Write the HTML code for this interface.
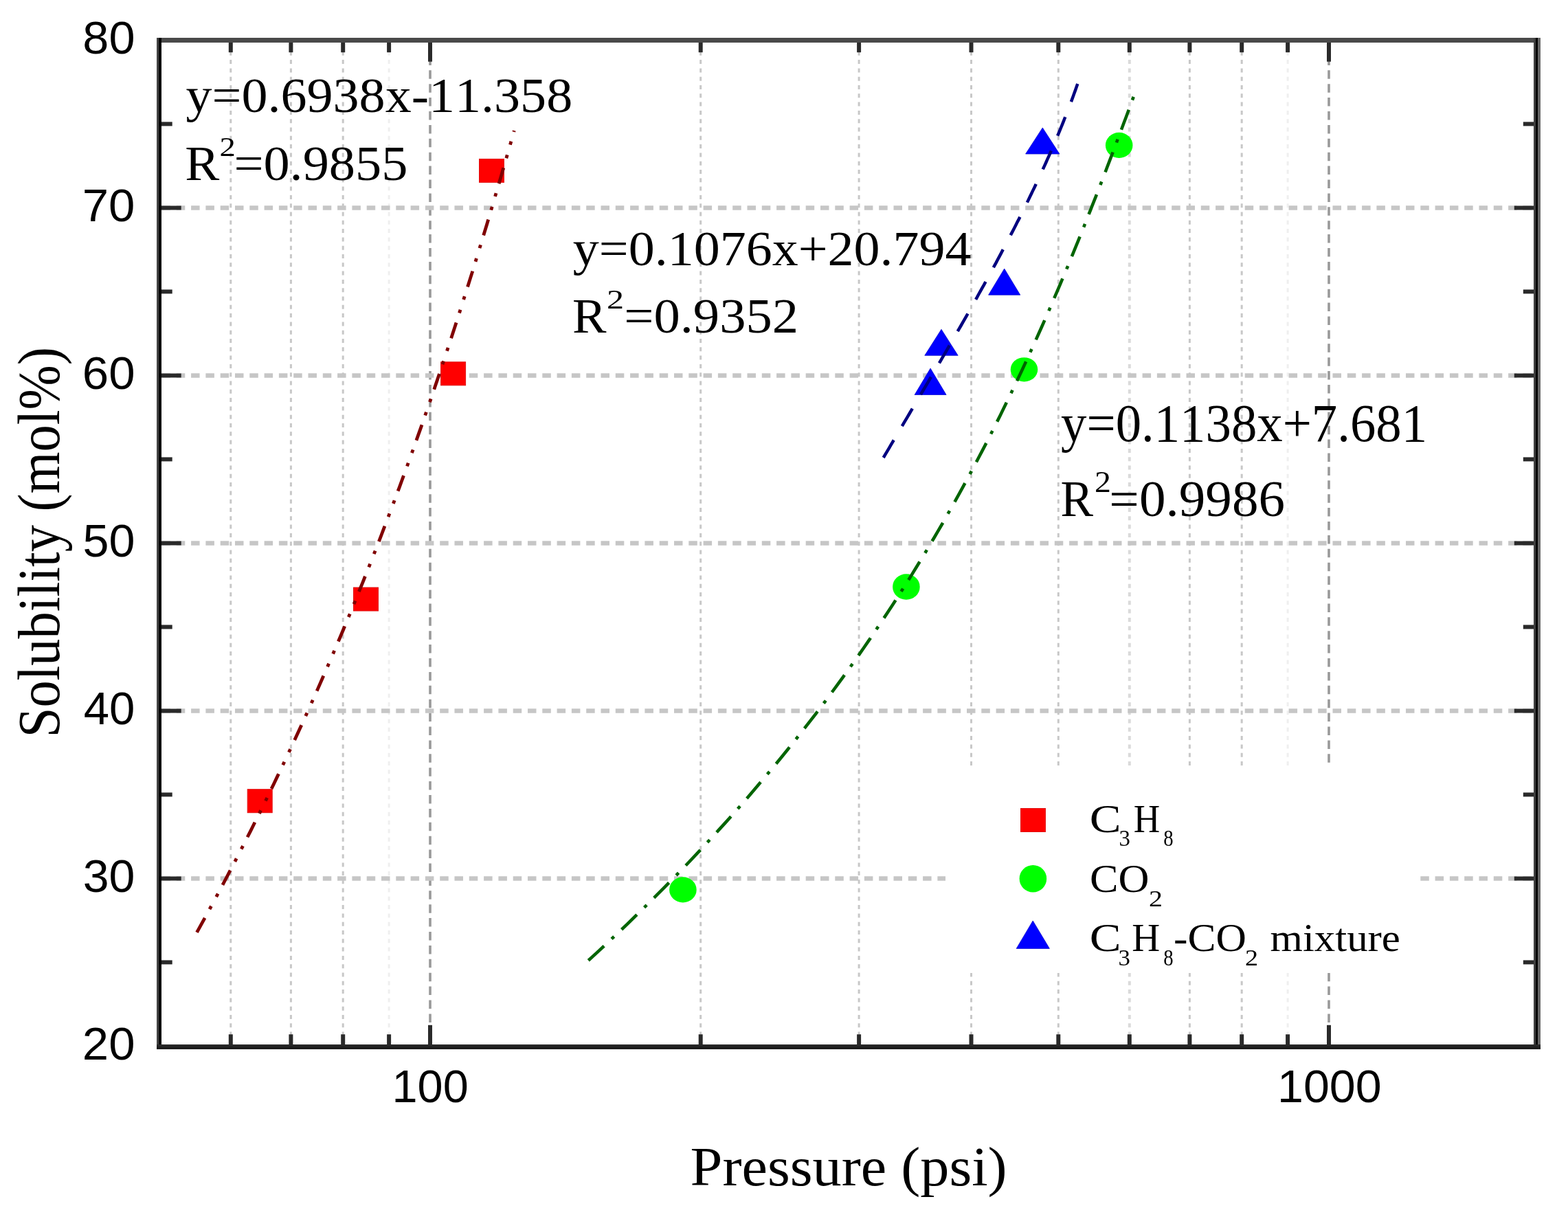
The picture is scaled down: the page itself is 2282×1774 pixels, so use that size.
<!DOCTYPE html><html><head><meta charset="utf-8"><title>Solubility vs Pressure</title><style>html,body{margin:0;padding:0;background:#fff;}svg{display:block;}text{font-kerning:none;}</style></head><body>
<svg width="2282" height="1774" viewBox="0 0 2282 1774">
<rect x="0" y="0" width="2282" height="1774" fill="#fff"/>
<g id="grid"><line x1="335.8" y1="62.5" x2="335.8" y2="1519.0" stroke="#c8c8c8" stroke-width="3" stroke-dasharray="6 6.3"/><line x1="423.4" y1="62.5" x2="423.4" y2="1519.0" stroke="#c8c8c8" stroke-width="3" stroke-dasharray="6 6.3"/><line x1="499.2" y1="62.5" x2="499.2" y2="1519.0" stroke="#c8c8c8" stroke-width="3" stroke-dasharray="6 6.3"/><line x1="566.1" y1="62.5" x2="566.1" y2="1519.0" stroke="#efefef" stroke-width="3" stroke-dasharray="6 6.3"/><line x1="1019.7" y1="62.5" x2="1019.7" y2="1519.0" stroke="#c8c8c8" stroke-width="3" stroke-dasharray="6 6.3"/><line x1="1250.1" y1="62.5" x2="1250.1" y2="1519.0" stroke="#c8c8c8" stroke-width="3" stroke-dasharray="6 6.3"/><line x1="1413.5" y1="62.5" x2="1413.5" y2="1519.0" stroke="#c8c8c8" stroke-width="3" stroke-dasharray="6 6.3"/><line x1="1540.3" y1="62.5" x2="1540.3" y2="1519.0" stroke="#c8c8c8" stroke-width="3" stroke-dasharray="6 6.3"/><line x1="1643.8" y1="62.5" x2="1643.8" y2="1519.0" stroke="#dadada" stroke-width="4" stroke-dasharray="6 6.3"/><line x1="1731.4" y1="62.5" x2="1731.4" y2="1519.0" stroke="#c8c8c8" stroke-width="3" stroke-dasharray="6 6.3"/><line x1="1807.2" y1="62.5" x2="1807.2" y2="1519.0" stroke="#c8c8c8" stroke-width="3" stroke-dasharray="6 6.3"/><line x1="1874.1" y1="62.5" x2="1874.1" y2="1519.0" stroke="#efefef" stroke-width="3" stroke-dasharray="6 6.3"/><line x1="626.0" y1="62.5" x2="626.0" y2="1519.0" stroke="#999" stroke-width="3.6" stroke-dasharray="12.5 7.4"/><line x1="1934.0" y1="62.5" x2="1934.0" y2="1519.0" stroke="#999" stroke-width="3.6" stroke-dasharray="12.5 7.4"/><line x1="235.5" y1="1278.4" x2="2232.0" y2="1278.4" stroke="#c6c6c6" stroke-width="6.5" stroke-dasharray="12.5 8.8"/><line x1="235.5" y1="1034.4" x2="2232.0" y2="1034.4" stroke="#c6c6c6" stroke-width="6.5" stroke-dasharray="12.5 8.8"/><line x1="235.5" y1="790.4" x2="2232.0" y2="790.4" stroke="#c6c6c6" stroke-width="6.5" stroke-dasharray="12.5 8.8"/><line x1="235.5" y1="546.4" x2="2232.0" y2="546.4" stroke="#c6c6c6" stroke-width="6.5" stroke-dasharray="12.5 8.8"/><line x1="235.5" y1="302.4" x2="2232.0" y2="302.4" stroke="#c6c6c6" stroke-width="6.5" stroke-dasharray="12.5 8.8"/></g>
<rect x="1376" y="1115" width="691" height="301" fill="#fff"/>
<rect x="360.2" y="1148.7" width="36" height="34" fill="#ff0000" stroke="#e01010" stroke-width="1"/>
<rect x="514.5" y="855.0" width="36" height="34" fill="#ff0000" stroke="#e01010" stroke-width="1"/>
<rect x="641.6" y="526.8" width="36" height="34" fill="#ff0000" stroke="#e01010" stroke-width="1"/>
<rect x="697.5" y="231.4" width="36" height="34" fill="#ff0000" stroke="#e01010" stroke-width="1"/>
<ellipse cx="993.9" cy="1294.9" rx="19.8" ry="18.6" fill="#00ff00"/>
<ellipse cx="1318.9" cy="854" rx="19.8" ry="18.8" fill="#00ff00"/>
<ellipse cx="1490.5" cy="537.8" rx="19.8" ry="17.6" fill="#00ff00"/>
<ellipse cx="1628.7" cy="211.4" rx="19.8" ry="18.6" fill="#00ff00"/>
<polygon points="1354.1,536.0 1331.1,574.5 1377.1,574.5" fill="#0000ff" stroke="#1010d0" stroke-width="0.8"/>
<polygon points="1370.0,479.3 1345.8,517.3 1394.2,517.3" fill="#0000ff" stroke="#1010d0" stroke-width="0.8"/>
<polygon points="1461.7,391.0 1438.6,429.2 1484.8,429.2" fill="#0000ff" stroke="#1010d0" stroke-width="0.8"/>
<polygon points="1517.3,185.9 1492.6,224.0 1542.0,224.0" fill="#0000ff" stroke="#1010d0" stroke-width="0.8"/>
<path d="M286.5,1356.9 L291.9,1347.1 L297.3,1337.3 L302.7,1327.5 L308.0,1317.7 L313.3,1307.9 L318.5,1298.1 L323.8,1288.3 L328.9,1278.5 L334.1,1268.7 L339.2,1258.9 L344.3,1249.1 L349.4,1239.2 L354.4,1229.4 L359.4,1219.6 L364.4,1209.8 L369.3,1200.0 L374.2,1190.2 L379.1,1180.4 L383.9,1170.6 L388.8,1160.8 L393.5,1151.0 L398.3,1141.2 L403.0,1131.4 L407.7,1121.6 L412.4,1111.8 L417.0,1102.0 L421.6,1092.2 L426.2,1082.4 L430.8,1072.6 L435.3,1062.8 L439.8,1053.0 L444.3,1043.2 L448.7,1033.4 L453.1,1023.6 L457.5,1013.8 L461.9,1003.9 L466.2,994.1 L470.5,984.3 L474.8,974.5 L479.0,964.7 L483.2,954.9 L487.4,945.1 L491.6,935.3 L495.8,925.5 L499.9,915.7 L504.0,905.9 L508.1,896.1 L512.1,886.3 L516.1,876.5 L520.1,866.7 L524.1,856.9 L528.1,847.1 L532.0,837.3 L535.9,827.5 L539.8,817.7 L543.6,807.9 L547.5,798.1 L551.3,788.3 L555.1,778.5 L558.8,768.6 L562.6,758.8 L566.3,749.0 L570.0,739.2 L573.7,729.4 L577.3,719.6 L581.0,709.8 L584.6,700.0 L588.2,690.2 L591.8,680.4 L595.3,670.6 L598.8,660.8 L602.4,651.0 L605.8,641.2 L609.3,631.4 L612.8,621.6 L616.2,611.8 L619.6,602.0 L623.0,592.2 L626.4,582.4 L629.8,572.6 L633.1,562.8 L636.4,553.0 L639.7,543.2 L643.0,533.3 L646.3,523.5 L649.5,513.7 L652.8,503.9 L656.0,494.1 L659.2,484.3 L662.4,474.5 L665.5,464.7 L668.7,454.9 L671.8,445.1 L674.9,435.3 L678.0,425.5 L681.1,415.7 L684.2,405.9 L687.3,396.1 L690.3,386.3 L693.3,376.5 L696.3,366.7 L699.3,356.9 L702.3,347.1 L705.3,337.3 L708.3,327.5 L711.2,317.7 L714.1,307.9 L717.0,298.0 L719.9,288.2 L722.8,278.4 L725.7,268.6 L728.6,258.8 L731.4,249.0 L734.3,239.2 L737.1,229.4 L739.9,219.6 L742.7,209.8 L745.5,200.0 L748.3,190.2" fill="none" stroke="#800000" stroke-width="4.8" stroke-dasharray="24 14.5 5 15.5 5 14.5"/>
<path d="M856.3,1397.7 L867.9,1387.1 L879.3,1376.5 L890.6,1365.9 L901.8,1355.4 L912.9,1344.8 L923.8,1334.2 L934.7,1323.6 L945.4,1313.0 L956.0,1302.4 L966.5,1291.8 L976.9,1281.2 L987.2,1270.7 L997.4,1260.1 L1007.5,1249.5 L1017.5,1238.9 L1027.3,1228.3 L1037.1,1217.7 L1046.7,1207.1 L1056.3,1196.6 L1065.8,1186.0 L1075.1,1175.4 L1084.4,1164.8 L1093.5,1154.2 L1102.6,1143.6 L1111.5,1133.0 L1120.4,1122.4 L1129.2,1111.9 L1137.9,1101.3 L1146.4,1090.7 L1154.9,1080.1 L1163.3,1069.5 L1171.6,1058.9 L1179.8,1048.3 L1188.0,1037.8 L1196.0,1027.2 L1204.0,1016.6 L1211.8,1006.0 L1219.6,995.4 L1227.3,984.8 L1234.9,974.2 L1242.5,963.7 L1249.9,953.1 L1257.3,942.5 L1264.6,931.9 L1271.8,921.3 L1278.9,910.7 L1286.0,900.1 L1293.0,889.5 L1299.9,879.0 L1306.7,868.4 L1313.5,857.8 L1320.2,847.2 L1326.8,836.6 L1333.3,826.0 L1339.8,815.4 L1346.2,804.9 L1352.5,794.3 L1358.8,783.7 L1365.0,773.1 L1371.2,762.5 L1377.2,751.9 L1383.2,741.3 L1389.2,730.7 L1395.1,720.2 L1400.9,709.6 L1406.7,699.0 L1412.4,688.4 L1418.0,677.8 L1423.6,667.2 L1429.2,656.6 L1434.7,646.1 L1440.1,635.5 L1445.5,624.9 L1450.8,614.3 L1456.1,603.7 L1461.3,593.1 L1466.5,582.5 L1471.6,571.9 L1476.6,561.4 L1481.7,550.8 L1486.7,540.2 L1491.6,529.6 L1496.5,519.0 L1501.3,508.4 L1506.1,497.8 L1510.9,487.3 L1515.6,476.7 L1520.3,466.1 L1525.0,455.5 L1529.6,444.9 L1534.1,434.3 L1538.7,423.7 L1543.2,413.2 L1547.6,402.6 L1552.1,392.0 L1556.5,381.4 L1560.8,370.8 L1565.2,360.2 L1569.5,349.6 L1573.8,339.0 L1578.0,328.5 L1582.2,317.9 L1586.4,307.3 L1590.6,296.7 L1594.8,286.1 L1598.9,275.5 L1603.0,264.9 L1607.1,254.4 L1611.1,243.8 L1615.2,233.2 L1619.2,222.6 L1623.2,212.0 L1627.2,201.4 L1631.2,190.8 L1635.1,180.2 L1639.1,169.7 L1643.0,159.1 L1646.9,148.5 L1650.8,137.9" fill="none" stroke="#006400" stroke-width="4.6" stroke-dasharray="31 15 5 15"/>
<path d="M1285.7,666.0 L1288.4,661.4 L1291.1,656.9 L1293.8,652.3 L1296.5,647.7 L1299.2,643.1 L1301.9,638.6 L1304.6,634.0 L1307.3,629.4 L1310.0,624.9 L1312.7,620.3 L1315.4,615.7 L1318.1,611.1 L1320.8,606.6 L1323.5,602.0 L1326.2,597.4 L1328.9,592.9 L1331.6,588.3 L1334.3,583.7 L1337.0,579.1 L1339.7,574.6 L1342.4,570.0 L1345.1,565.4 L1347.8,560.9 L1350.5,556.3 L1353.2,551.7 L1355.9,547.1 L1358.6,542.6 L1361.3,538.0 L1364.0,533.4 L1366.6,528.9 L1369.3,524.3 L1372.0,519.7 L1374.7,515.1 L1377.3,510.6 L1380.0,506.0 L1382.6,501.4 L1385.3,496.9 L1387.9,492.3 L1390.6,487.7 L1393.2,483.1 L1395.8,478.6 L1398.5,474.0 L1401.1,469.4 L1403.7,464.9 L1406.3,460.3 L1408.9,455.7 L1411.5,451.1 L1414.1,446.6 L1416.6,442.0 L1419.2,437.4 L1421.8,432.9 L1424.3,428.3 L1426.9,423.7 L1429.4,419.1 L1432.0,414.6 L1434.5,410.0 L1437.0,405.4 L1439.5,400.9 L1442.0,396.3 L1444.5,391.7 L1447.0,387.1 L1449.5,382.6 L1451.9,378.0 L1454.4,373.4 L1456.8,368.9 L1459.2,364.3 L1461.7,359.7 L1464.1,355.1 L1466.5,350.6 L1468.9,346.0 L1471.2,341.4 L1473.6,336.9 L1476.0,332.3 L1478.3,327.7 L1480.6,323.1 L1483.0,318.6 L1485.3,314.0 L1487.6,309.4 L1489.8,304.9 L1492.1,300.3 L1494.4,295.7 L1496.6,291.1 L1498.8,286.6 L1501.0,282.0 L1503.2,277.4 L1505.4,272.9 L1507.6,268.3 L1509.7,263.7 L1511.9,259.1 L1514.0,254.6 L1516.1,250.0 L1518.2,245.4 L1520.3,240.9 L1522.4,236.3 L1524.4,231.7 L1526.5,227.1 L1528.5,222.6 L1530.5,218.0 L1532.5,213.4 L1534.4,208.9 L1536.4,204.3 L1538.3,199.7 L1540.2,195.1 L1542.1,190.6 L1544.0,186.0 L1545.9,181.4 L1547.7,176.9 L1549.5,172.3 L1551.3,167.7 L1553.1,163.1 L1554.9,158.6 L1556.6,154.0 L1558.4,149.4 L1560.1,144.9 L1561.8,140.3 L1563.4,135.7 L1565.1,131.1 L1566.7,126.6 L1568.3,122.0" fill="none" stroke="#000080" stroke-width="4.5" stroke-dasharray="29.6 23.7"/>
<g stroke="#2a2a2a" stroke-width="6" stroke-linecap="butt"><line x1="231.5" y1="1400.4" x2="250.7" y2="1400.4"/><line x1="2236.0" y1="1400.4" x2="2216.8" y2="1400.4"/><line x1="231.5" y1="1278.4" x2="263.7" y2="1278.4"/><line x1="2236.0" y1="1278.4" x2="2203.8" y2="1278.4"/><line x1="231.5" y1="1156.4" x2="250.7" y2="1156.4"/><line x1="2236.0" y1="1156.4" x2="2216.8" y2="1156.4"/><line x1="231.5" y1="1034.4" x2="263.7" y2="1034.4"/><line x1="2236.0" y1="1034.4" x2="2203.8" y2="1034.4"/><line x1="231.5" y1="912.4" x2="250.7" y2="912.4"/><line x1="2236.0" y1="912.4" x2="2216.8" y2="912.4"/><line x1="231.5" y1="790.4" x2="263.7" y2="790.4"/><line x1="2236.0" y1="790.4" x2="2203.8" y2="790.4"/><line x1="231.5" y1="668.4" x2="250.7" y2="668.4"/><line x1="2236.0" y1="668.4" x2="2216.8" y2="668.4"/><line x1="231.5" y1="546.4" x2="263.7" y2="546.4"/><line x1="2236.0" y1="546.4" x2="2203.8" y2="546.4"/><line x1="231.5" y1="424.4" x2="250.7" y2="424.4"/><line x1="2236.0" y1="424.4" x2="2216.8" y2="424.4"/><line x1="231.5" y1="302.4" x2="263.7" y2="302.4"/><line x1="2236.0" y1="302.4" x2="2203.8" y2="302.4"/><line x1="231.5" y1="180.4" x2="250.7" y2="180.4"/><line x1="2236.0" y1="180.4" x2="2216.8" y2="180.4"/><line x1="335.8" y1="1523.0" x2="335.8" y2="1505.3"/><line x1="335.8" y1="58.5" x2="335.8" y2="76.2"/><line x1="423.4" y1="1523.0" x2="423.4" y2="1505.3"/><line x1="423.4" y1="58.5" x2="423.4" y2="76.2"/><line x1="499.2" y1="1523.0" x2="499.2" y2="1505.3"/><line x1="499.2" y1="58.5" x2="499.2" y2="76.2"/><line x1="566.1" y1="1523.0" x2="566.1" y2="1505.3"/><line x1="566.1" y1="58.5" x2="566.1" y2="76.2"/><line x1="1019.7" y1="1523.0" x2="1019.7" y2="1505.3"/><line x1="1019.7" y1="58.5" x2="1019.7" y2="76.2"/><line x1="1250.1" y1="1523.0" x2="1250.1" y2="1505.3"/><line x1="1250.1" y1="58.5" x2="1250.1" y2="76.2"/><line x1="1413.5" y1="1523.0" x2="1413.5" y2="1505.3"/><line x1="1413.5" y1="58.5" x2="1413.5" y2="76.2"/><line x1="1540.3" y1="1523.0" x2="1540.3" y2="1505.3"/><line x1="1540.3" y1="58.5" x2="1540.3" y2="76.2"/><line x1="1643.8" y1="1523.0" x2="1643.8" y2="1505.3"/><line x1="1643.8" y1="58.5" x2="1643.8" y2="76.2"/><line x1="1731.4" y1="1523.0" x2="1731.4" y2="1505.3"/><line x1="1731.4" y1="58.5" x2="1731.4" y2="76.2"/><line x1="1807.2" y1="1523.0" x2="1807.2" y2="1505.3"/><line x1="1807.2" y1="58.5" x2="1807.2" y2="76.2"/><line x1="1874.1" y1="1523.0" x2="1874.1" y2="1505.3"/><line x1="1874.1" y1="58.5" x2="1874.1" y2="76.2"/><line x1="626.0" y1="1523.0" x2="626.0" y2="1491.8"/><line x1="626.0" y1="58.5" x2="626.0" y2="89.7"/><line x1="1934.0" y1="1523.0" x2="1934.0" y2="1491.8"/><line x1="1934.0" y1="58.5" x2="1934.0" y2="89.7"/></g>
<g shape-rendering="crispEdges"><rect x="228" y="55" width="2013.7" height="6.6" fill="#4a4a4a"/><rect x="228" y="55" width="3.3" height="1471.6" fill="#454545"/><rect x="231.3" y="55" width="3.5" height="1471.6" fill="#050505"/><rect x="2231.9" y="55" width="3.1" height="1471.6" fill="#404040"/><rect x="2235" y="55" width="3.3" height="1471.6" fill="#000"/><rect x="2238.3" y="55" width="3.4" height="1471.6" fill="#666"/><rect x="228" y="1519.6" width="2013.7" height="3.4" fill="#282828"/><rect x="228" y="1523" width="2013.7" height="3.6" fill="#1c1c1c"/></g>
<text x="119.83" y="1542.00" font-family="&quot;Liberation Sans&quot;, Arial, sans-serif" font-size="66" textLength="76.66" lengthAdjust="spacingAndGlyphs">20</text>
<text x="120.71" y="1298.00" font-family="&quot;Liberation Sans&quot;, Arial, sans-serif" font-size="66" textLength="75.75" lengthAdjust="spacingAndGlyphs">30</text>
<text x="121.76" y="1054.00" font-family="&quot;Liberation Sans&quot;, Arial, sans-serif" font-size="66" textLength="74.66" lengthAdjust="spacingAndGlyphs">40</text>
<text x="120.57" y="810.00" font-family="&quot;Liberation Sans&quot;, Arial, sans-serif" font-size="66" textLength="75.90" lengthAdjust="spacingAndGlyphs">50</text>
<text x="119.80" y="566.00" font-family="&quot;Liberation Sans&quot;, Arial, sans-serif" font-size="66" textLength="76.69" lengthAdjust="spacingAndGlyphs">60</text>
<text x="119.76" y="322.00" font-family="&quot;Liberation Sans&quot;, Arial, sans-serif" font-size="66" textLength="76.73" lengthAdjust="spacingAndGlyphs">70</text>
<text x="120.32" y="78.00" font-family="&quot;Liberation Sans&quot;, Arial, sans-serif" font-size="66" textLength="76.15" lengthAdjust="spacingAndGlyphs">80</text>
<text x="570.52" y="1604.00" font-family="&quot;Liberation Sans&quot;, Arial, sans-serif" font-size="67" textLength="111.29" lengthAdjust="spacingAndGlyphs">100</text>
<text x="1859.01" y="1604.00" font-family="&quot;Liberation Sans&quot;, Arial, sans-serif" font-size="67" textLength="151.66" lengthAdjust="spacingAndGlyphs">1000</text>
<text x="1004.57" y="1725.00" font-family="&quot;Liberation Serif&quot;, &quot;Times New Roman&quot;, serif" font-size="80" textLength="461.13" lengthAdjust="spacingAndGlyphs">Pressure (psi)</text>
<g transform="translate(86.0,1073.14) rotate(-90)"><text x="0" y="0" font-family="&quot;Liberation Serif&quot;, serif" font-size="86" textLength="567.98" lengthAdjust="spacingAndGlyphs">Solubility (mol%)</text></g>
<text x="270.57" y="163.20" font-family="&quot;Liberation Serif&quot;, &quot;Times New Roman&quot;, serif" font-size="72" textLength="562.63" lengthAdjust="spacingAndGlyphs">y=0.6938x-11.358</text>
<text x="269.34" y="262.00" font-family="&quot;Liberation Serif&quot;, &quot;Times New Roman&quot;, serif" font-size="72" textLength="50.07" lengthAdjust="spacingAndGlyphs">R</text>
<text x="319.45" y="227.00" font-family="&quot;Liberation Serif&quot;, &quot;Times New Roman&quot;, serif" font-size="40" textLength="23.32" lengthAdjust="spacingAndGlyphs">2</text>
<text x="340.40" y="262.00" font-family="&quot;Liberation Serif&quot;, &quot;Times New Roman&quot;, serif" font-size="72" textLength="252.98" lengthAdjust="spacingAndGlyphs">=0.9855</text>
<text x="833.87" y="385.50" font-family="&quot;Liberation Serif&quot;, &quot;Times New Roman&quot;, serif" font-size="71" textLength="579.61" lengthAdjust="spacingAndGlyphs">y=0.1076x+20.794</text>
<text x="833.06" y="484.30" font-family="&quot;Liberation Serif&quot;, &quot;Times New Roman&quot;, serif" font-size="72" textLength="49.55" lengthAdjust="spacingAndGlyphs">R</text>
<text x="883.00" y="449.00" font-family="&quot;Liberation Serif&quot;, &quot;Times New Roman&quot;, serif" font-size="40" textLength="25.07" lengthAdjust="spacingAndGlyphs">2</text>
<text x="908.19" y="484.30" font-family="&quot;Liberation Serif&quot;, &quot;Times New Roman&quot;, serif" font-size="72" textLength="253.84" lengthAdjust="spacingAndGlyphs">=0.9352</text>
<text x="1544.09" y="641.50" font-family="&quot;Liberation Serif&quot;, &quot;Times New Roman&quot;, serif" font-size="78" textLength="533.00" lengthAdjust="spacingAndGlyphs">y=0.1138x+7.681</text>
<text x="1543.55" y="751.00" font-family="&quot;Liberation Serif&quot;, &quot;Times New Roman&quot;, serif" font-size="73" textLength="47.56" lengthAdjust="spacingAndGlyphs">R</text>
<text x="1592.90" y="715.50" font-family="&quot;Liberation Serif&quot;, &quot;Times New Roman&quot;, serif" font-size="45" textLength="23.95" lengthAdjust="spacingAndGlyphs">2</text>
<text x="1614.36" y="751.00" font-family="&quot;Liberation Serif&quot;, &quot;Times New Roman&quot;, serif" font-size="73" textLength="255.74" lengthAdjust="spacingAndGlyphs">=0.9986</text>
<text x="1585.78" y="1210.80" font-family="&quot;Liberation Serif&quot;, &quot;Times New Roman&quot;, serif" font-size="58" textLength="45.81" lengthAdjust="spacingAndGlyphs">C</text>
<text x="1628.42" y="1231.00" font-family="&quot;Liberation Serif&quot;, &quot;Times New Roman&quot;, serif" font-size="34" textLength="16.46" lengthAdjust="spacingAndGlyphs">3</text>
<text x="1649.76" y="1210.80" font-family="&quot;Liberation Serif&quot;, &quot;Times New Roman&quot;, serif" font-size="58" textLength="38.50" lengthAdjust="spacingAndGlyphs">H</text>
<text x="1693.20" y="1231.00" font-family="&quot;Liberation Serif&quot;, &quot;Times New Roman&quot;, serif" font-size="34" textLength="14.39" lengthAdjust="spacingAndGlyphs">8</text>
<text x="1586.05" y="1298.20" font-family="&quot;Liberation Serif&quot;, &quot;Times New Roman&quot;, serif" font-size="58" textLength="86.51" lengthAdjust="spacingAndGlyphs">CO</text>
<text x="1671.95" y="1319.30" font-family="&quot;Liberation Serif&quot;, &quot;Times New Roman&quot;, serif" font-size="34" textLength="19.96" lengthAdjust="spacingAndGlyphs">2</text>
<text x="1585.78" y="1384.20" font-family="&quot;Liberation Serif&quot;, &quot;Times New Roman&quot;, serif" font-size="58" textLength="45.81" lengthAdjust="spacingAndGlyphs">C</text>
<text x="1627.53" y="1404.60" font-family="&quot;Liberation Serif&quot;, &quot;Times New Roman&quot;, serif" font-size="34" textLength="17.43" lengthAdjust="spacingAndGlyphs">3</text>
<text x="1647.36" y="1384.20" font-family="&quot;Liberation Serif&quot;, &quot;Times New Roman&quot;, serif" font-size="58" textLength="41.00" lengthAdjust="spacingAndGlyphs">H</text>
<text x="1693.20" y="1404.60" font-family="&quot;Liberation Serif&quot;, &quot;Times New Roman&quot;, serif" font-size="34" textLength="14.39" lengthAdjust="spacingAndGlyphs">8</text>
<text x="1708.02" y="1384.20" font-family="&quot;Liberation Serif&quot;, &quot;Times New Roman&quot;, serif" font-size="58" textLength="105.90" lengthAdjust="spacingAndGlyphs">-CO</text>
<text x="1811.92" y="1404.60" font-family="&quot;Liberation Serif&quot;, &quot;Times New Roman&quot;, serif" font-size="34" textLength="19.08" lengthAdjust="spacingAndGlyphs">2</text>
<text x="1848.52" y="1384.20" font-family="&quot;Liberation Serif&quot;, &quot;Times New Roman&quot;, serif" font-size="58" textLength="189.39" lengthAdjust="spacingAndGlyphs">mixture</text>
<rect x="1485.5" y="1176.5" width="36" height="34" fill="#ff0000" stroke="#e01010" stroke-width="1"/>
<circle cx="1503.4" cy="1278.7" r="19.8" fill="#00ff00"/>
<polygon points="1503.2,1340 1479.2,1380.4 1527.4,1380.4" fill="#0000ff" stroke="#1010d0" stroke-width="0.8"/>
</svg></body></html>
